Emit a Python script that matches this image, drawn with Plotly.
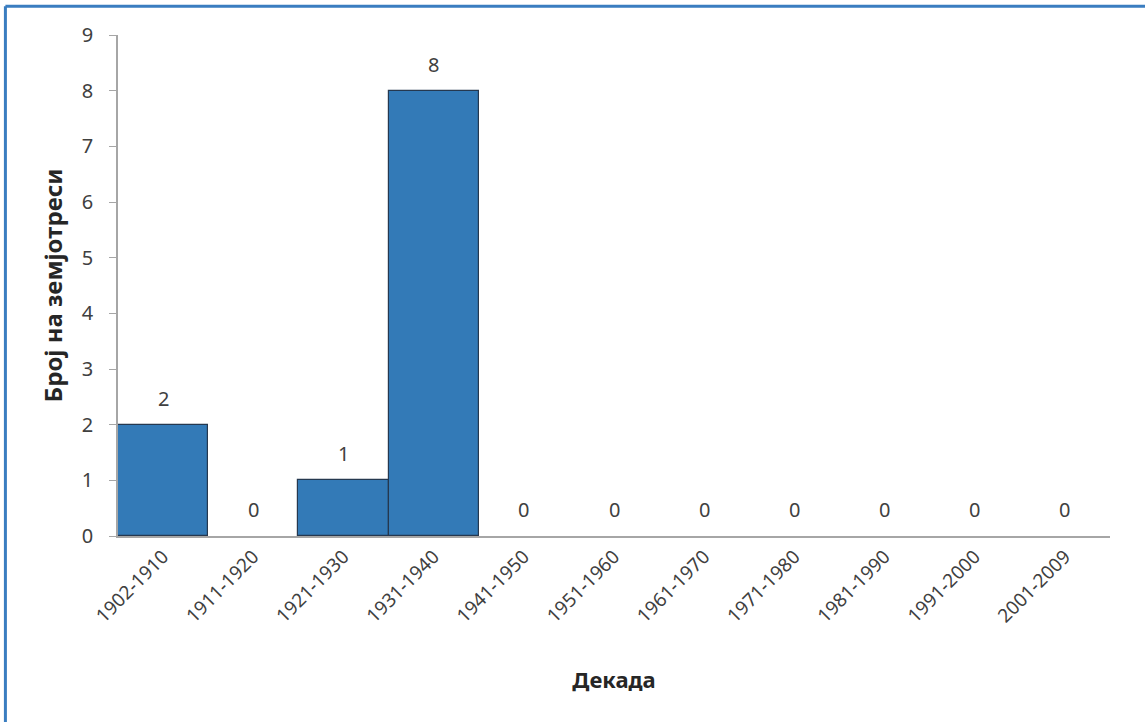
import plotly.graph_objects as go

decades = ["1902-1910", "1911-1920", "1921-1930", "1931-1940", "1941-1950",
           "1951-1960", "1961-1970", "1971-1980", "1981-1990", "1991-2000",
           "2001-2009"]
counts = [2, 0, 1, 8, 0, 0, 0, 0, 0, 0, 0]

y_ticks = list(range(0, 10))

FONT = "Noto Sans"
TEXT_COLOR = "#404040"
AXIS_COLOR = "#A6A6A6"

fig = go.Figure()
fig.add_trace(go.Bar(
    x=decades,
    y=counts,
    marker=dict(
        color="#337AB7",
        line=dict(color="#25384f",
                  width=[1.2 if c > 0 else 0 for c in counts]),
    ),
    hoverinfo="x+y",
))

# value labels above each bar
for d, c in zip(decades, counts):
    fig.add_annotation(
        x=d, y=c, text=str(c), showarrow=False,
        yanchor="bottom", yshift=11,
        font=dict(family=FONT, size=20, color=TEXT_COLOR),
    )

# outer frame (top and left edges)
frame = dict(color="#3A7DC0", width=3)
fig.add_shape(type="line", xref="paper", yref="paper",
              x0=-0.1135, x1=1.2, y0=1.0575, y1=1.0575, line=frame)
fig.add_shape(type="line", xref="paper", yref="paper",
              x0=-0.1135, x1=-0.1135, y0=-0.5, y1=1.0575, line=frame)

fig.update_layout(
    width=1145, height=722,
    margin=dict(l=118, r=35, t=35, b=186),
    paper_bgcolor="white", plot_bgcolor="white",
    bargap=0,
    showlegend=False,
    font=dict(family=FONT, color=TEXT_COLOR),
    xaxis=dict(
        type="category",
        tickangle=-45,
        tickfont=dict(family=FONT, size=19, color=TEXT_COLOR),
        showline=True, linecolor=AXIS_COLOR, linewidth=2,
        ticks="", showgrid=False,
        title=dict(text="<b>Декада</b>", standoff=46,
                   font=dict(family=FONT, size=22, color="#262626")),
    ),
    yaxis=dict(
        range=[0, 9],
        tickvals=y_ticks,
        tickfont=dict(family=FONT, size=20, color=TEXT_COLOR),
        ticklabelstandoff=12,
        showline=True, linecolor=AXIS_COLOR, linewidth=1.5,
        ticks="outside", ticklen=7, tickcolor=AXIS_COLOR,
        showgrid=False, zeroline=False,
        title=dict(text="<b>Број на земјотреси</b>", standoff=12,
                   font=dict(family=FONT, size=24, color="#262626")),
    ),
)

fig.write_html("out.html")
